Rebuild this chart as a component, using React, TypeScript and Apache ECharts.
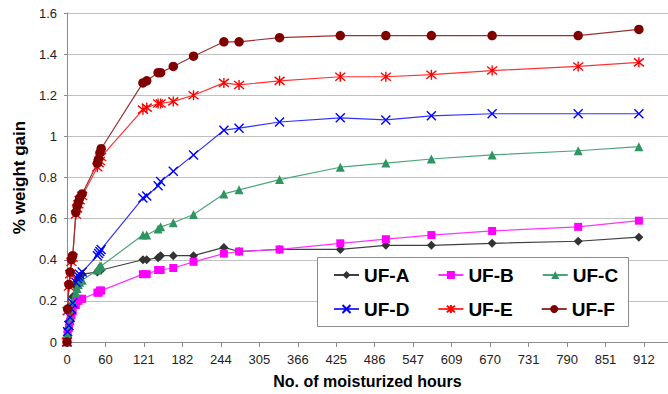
import React, { useEffect, useRef } from "react";
import * as echarts from "echarts";

const hours = [0, 1, 3, 5, 7, 9, 14, 16, 18, 20, 24, 48, 50, 52, 54, 120, 126, 144, 148, 168, 200, 248, 272, 336, 432, 504, 576, 672, 808, 904];
const xTickLabels = ["0", "60", "121", "182", "244", "305", "366", "425", "486", "547", "609", "670", "731", "790", "851", "912"];

const ufA = [0, 0.05, 0.10, 0.14, 0.18, 0.22, 0.27, 0.29, 0.31, 0.32, 0.33, 0.34, 0.35, 0.35, 0.35, 0.40, 0.40, 0.41, 0.42, 0.42, 0.42, 0.46, 0.44, 0.45, 0.45, 0.47, 0.47, 0.48, 0.49, 0.51];
const ufB = [0, 0.05, 0.07, 0.10, 0.13, 0.15, 0.18, 0.20, 0.20, 0.21, 0.21, 0.24, 0.24, 0.25, 0.25, 0.33, 0.33, 0.35, 0.35, 0.36, 0.39, 0.43, 0.44, 0.45, 0.48, 0.50, 0.52, 0.54, 0.56, 0.59];
const ufC = [0, 0.04, 0.08, 0.12, 0.16, 0.20, 0.24, 0.26, 0.28, 0.29, 0.30, 0.35, 0.36, 0.37, 0.37, 0.52, 0.52, 0.55, 0.56, 0.58, 0.62, 0.72, 0.74, 0.79, 0.85, 0.87, 0.89, 0.91, 0.93, 0.95];
const ufD = [0, 0.05, 0.08, 0.12, 0.16, 0.19, 0.29, 0.31, 0.32, 0.33, 0.34, 0.42, 0.43, 0.44, 0.45, 0.70, 0.71, 0.76, 0.78, 0.83, 0.91, 1.03, 1.04, 1.07, 1.09, 1.08, 1.10, 1.11, 1.11, 1.11];
const ufE = [0, 0.15, 0.27, 0.33, 0.39, 0.41, 0.62, 0.65, 0.67, 0.69, 0.71, 0.85, 0.87, 0.88, 0.90, 1.13, 1.14, 1.16, 1.16, 1.17, 1.20, 1.26, 1.25, 1.27, 1.29, 1.29, 1.30, 1.32, 1.34, 1.36];
const ufF = [0, 0.16, 0.28, 0.34, 0.40, 0.42, 0.63, 0.66, 0.68, 0.70, 0.72, 0.87, 0.89, 0.92, 0.94, 1.26, 1.27, 1.31, 1.31, 1.34, 1.39, 1.46, 1.46, 1.48, 1.49, 1.49, 1.49, 1.49, 1.49, 1.52];

const seriesNames = ["UF-A", "UF-B", "UF-C", "UF-D", "UF-E", "UF-F"];
const seriesValues = [ufA, ufB, ufC, ufD, ufE, ufF];

const FONT = "'Liberation Sans', Arial, sans-serif";
const TICK_STEP = 60.8;

const styles = [
  { symbol: "diamond", size: 9, color: "#333333", line: "#404040", stroke: false },
  { symbol: "rect", size: 8, color: "#ff00ff", line: "#ff33ff", stroke: false },
  { symbol: "triangle", size: 9, color: "#2e9560", line: "#4ca57a", stroke: false },
  { symbol: "path://M1 1L9 9M9 1L1 9", size: 9, color: "#0000ff", line: "#3333ff", stroke: true },
  { symbol: "path://M1 1L9 9M9 1L1 9M5 0L5 10", size: 10, color: "#ff0000", line: "#ff3333", stroke: true },
  { symbol: "circle", size: 9.5, color: "#800000", line: "#993333", stroke: false },
];

export default function App() {
  const ref = useRef<HTMLDivElement>(null);
  useEffect(() => {
    if (!ref.current) return;
    const chart = echarts.init(ref.current, null, { renderer: "svg" });
    const series = seriesNames.map((name, i) => {
      const s = styles[i];
      return {
        name,
        type: "line",
        data: hours.map((h, j) => [h, seriesValues[i][j]]),
        symbol: s.symbol,
        symbolSize: s.size,
        lineStyle: { color: s.line, width: 1.2 },
        itemStyle: s.stroke
          ? { color: s.color, borderColor: s.color, borderWidth: 1.4 }
          : { color: s.color, borderWidth: 0 },
        emphasis: { disabled: true },
      };
    });
    const legendCommon = {
      orient: "horizontal",
      itemWidth: 25,
      itemHeight: 10,
      itemGap: 28,
      padding: 0,
      selectedMode: false,
      textStyle: { fontFamily: FONT, fontSize: 19, fontWeight: "bold", color: "#000", lineHeight: 20 },
    };
    chart.setOption({
      animation: false,
      backgroundColor: "#ffffff",
      grid: { left: 67, right: 0, top: 13, height: 329, containLabel: false },
      xAxis: {
        type: "value",
        min: 0,
        max: 950,
        interval: TICK_STEP,
        name: "No. of moisturized hours",
        nameLocation: "middle",
        nameGap: 31,
        nameTextStyle: { fontFamily: FONT, fontSize: 16, fontWeight: "bold", color: "#000" },
        axisLine: { show: true, lineStyle: { color: "#8c8c8c", width: 1 } },
        axisTick: { show: true, length: 5, lineStyle: { color: "#8c8c8c" } },
        axisLabel: {
          margin: 11,
          fontFamily: FONT,
          fontSize: 13,
          color: "#222",
          showMaxLabel: false,
          formatter: (v: number) => {
            const idx = Math.round(v / TICK_STEP);
            if (Math.abs(v - idx * TICK_STEP) < 1 && idx < xTickLabels.length) return xTickLabels[idx];
            return "";
          },
        },
        splitLine: { show: false },
      },
      yAxis: {
        type: "value",
        min: 0,
        max: 1.6,
        interval: 0.2,
        name: "% weight gain",
        nameLocation: "middle",
        nameGap: 39,
        nameTextStyle: { fontFamily: FONT, fontSize: 17, fontWeight: "bold", color: "#000" },
        axisLine: { show: true, lineStyle: { color: "#8c8c8c", width: 1 } },
        axisTick: { show: true, length: 3, lineStyle: { color: "#8c8c8c" } },
        axisLabel: { margin: 10, fontFamily: FONT, fontSize: 13, color: "#222" },
        splitLine: { show: true, lineStyle: { color: "#c0c0c0", width: 1 } },
      },
      graphic: {
        elements: [
          {
            type: "rect",
            z: 3,
            shape: { x: 317.5, y: 257.5, width: 311, height: 69 },
            style: { fill: "#ffffff", stroke: "#8c8c8c", lineWidth: 1 },
          },
        ],
      },
      legend: [
        { ...legendCommon, data: seriesNames.slice(0, 3), left: 333, top: 265 },
        { ...legendCommon, data: seriesNames.slice(3, 6), left: 333, top: 299 },
      ],
      series,
    });
    return () => chart.dispose();
  }, []);
  return (
    <div
      ref={ref}
      style={{ position: "fixed", left: 0, top: 0, width: 668, height: 394, background: "#fff" }}
    />
  );
}
